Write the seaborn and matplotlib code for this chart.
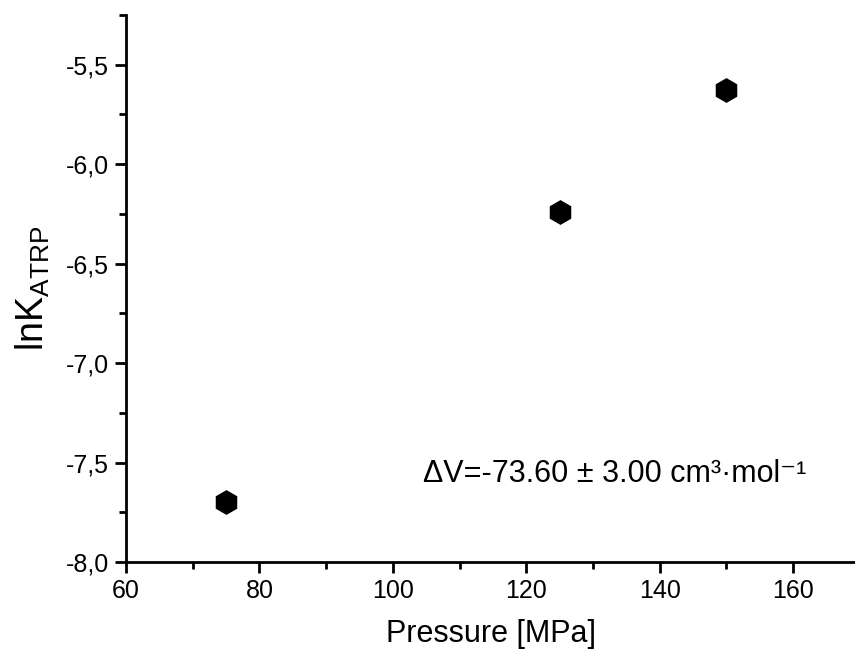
import numpy as np
import pandas as pd
import seaborn as sns
import matplotlib.pyplot as plt
import matplotlib.ticker as ticker

# data
pressure = [75, 125, 150]
ln_k = [-7.70, -6.24, -5.625]
note = "ΔV=-73.60 ± 3.00 cm³·mol⁻¹"

sns.set_theme(style="ticks")
plt.rcParams['font.family'] = ['Liberation Sans', 'DejaVu Sans']
plt.rcParams['mathtext.fontset'] = 'custom'
plt.rcParams['mathtext.rm'] = 'Liberation Sans'
plt.rcParams['mathtext.it'] = 'Liberation Sans'
plt.rcParams['text.color'] = 'black'
plt.rcParams['axes.labelcolor'] = 'black'

df = pd.DataFrame({'Pressure': pressure, 'lnK': ln_k})

fig = plt.figure(figsize=(8.55, 6.53), dpi=100)
ax = fig.add_axes([0.1474, 0.1394, 0.8526, 0.8377])

sns.scatterplot(data=df, x='Pressure', y='lnK', ax=ax, marker='h', s=320,
                color='black', edgecolor='black', linewidth=0, zorder=3)

ax.set_xlim(60, 169.3)
ax.set_ylim(-8.0, -5.25)
ax.xaxis.set_major_locator(ticker.MultipleLocator(20))
ax.xaxis.set_minor_locator(ticker.MultipleLocator(10))
ax.yaxis.set_major_locator(ticker.MultipleLocator(0.5))
ax.yaxis.set_minor_locator(ticker.MultipleLocator(0.25))
ax.yaxis.set_major_formatter(ticker.FuncFormatter(lambda v, p: f'{v:.1f}'.replace('.', ',')))

for side in ['top', 'right']:
    ax.spines[side].set_visible(False)
for side in ['left', 'bottom']:
    ax.spines[side].set_linewidth(2)
    ax.spines[side].set_color('black')

ax.tick_params(which='major', direction='out', length=8, width=2, labelsize=18,
               colors='black', labelcolor='black', pad=4)
ax.tick_params(which='minor', direction='out', length=5, width=2, colors='black')

ax.set_xlabel('Pressure [MPa]', fontsize=22, labelpad=12)
ax.set_ylabel(r'lnK$_{\mathrm{ATRP}}$', fontsize=27, labelpad=10)

ax.text(104.5, -7.60, note, fontsize=22, va='baseline', ha='left', color='black')

plt.savefig('out.png', dpi=100)
